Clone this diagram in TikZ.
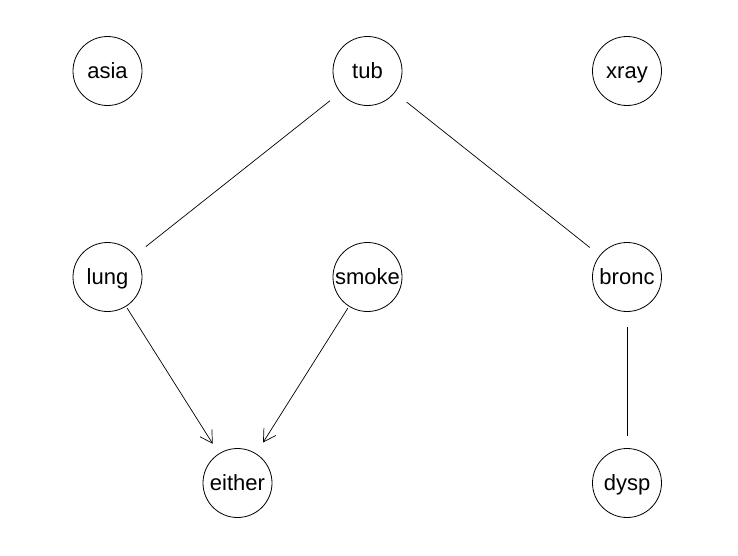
\documentclass[tikz,border=0pt]{standalone}
\usepackage{fontspec}
\setmainfont{Liberation Sans}
\usetikzlibrary{arrows.meta}
\begin{document}
\begin{tikzpicture}[x=1pt,y=-1pt,
  vnode/.style={circle,draw,line width=0.8pt,minimum size=69pt,inner sep=0pt,
    font=\fontsize{22}{26}\selectfont,text height=15.5pt,text depth=0pt},
  edge/.style={line width=0.7pt},
  arr/.style={line width=0.7pt,-{Straight Barb[length=12pt,width=14pt,line width=0.7pt]}}]
\useasboundingbox (0,0) rectangle (738,555);
\node[vnode] (asia)   at (107.5,71)  {asia};
\node[vnode] (tub)    at (367.5,71)  {tub};
\node[vnode] (xray)   at (627,71)    {xray};
\node[vnode] (lung)   at (107.5,277) {lung};
\node[vnode] (smoke)  at (367.5,277) {smoke};
\node[vnode] (bronc)  at (627,277)   {bronc};
\node[vnode] (either) at (237.5,483) {either};
\node[vnode] (dysp)   at (627,483)   {dysp};
\draw[edge,shorten <=13pt,shorten >=14pt] (tub) -- (lung);
\draw[edge,shorten <=15pt,shorten >=12.5pt] (tub) -- (bronc);
\draw[edge,shorten <=15pt,shorten >=12.5pt] (bronc) -- (dysp);
\draw[arr,shorten <=2pt,shorten >=11.5pt] (lung) -- (either);
\draw[arr,shorten <=2pt,shorten >=13pt] (smoke) -- (either);
\end{tikzpicture}
\end{document}
